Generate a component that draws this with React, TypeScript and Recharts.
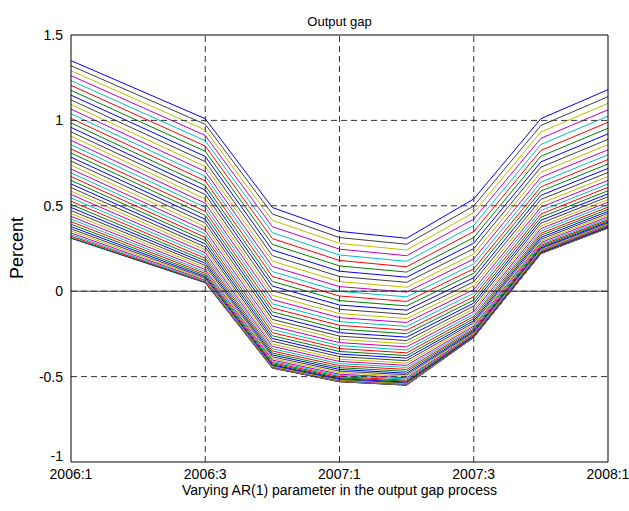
import { LineChart, Line, XAxis, YAxis, ReferenceLine } from "recharts";

// output gap paths, one value per AR(1) draw (lowest persistence first)
const q2006_1 = [0.310, 0.314, 0.322, 0.331, 0.341, 0.353, 0.365, 0.378, 0.392, 0.407, 0.422, 0.438, 0.455, 0.472, 0.490, 0.508, 0.527, 0.546, 0.566, 0.586, 0.607, 0.628, 0.649, 0.671, 0.693, 0.715, 0.738, 0.762, 0.785, 0.809, 0.833, 0.858, 0.883, 0.908, 0.933, 0.959, 0.985, 1.012, 1.039, 1.066, 1.093, 1.120, 1.148, 1.176, 1.205, 1.233, 1.262, 1.291, 1.320, 1.350];
const q2006_3 = [0.050, 0.051, 0.054, 0.058, 0.064, 0.070, 0.077, 0.085, 0.094, 0.104, 0.114, 0.126, 0.138, 0.151, 0.164, 0.178, 0.193, 0.209, 0.225, 0.242, 0.259, 0.277, 0.296, 0.315, 0.335, 0.356, 0.377, 0.399, 0.421, 0.444, 0.467, 0.491, 0.515, 0.540, 0.566, 0.592, 0.618, 0.646, 0.673, 0.701, 0.730, 0.759, 0.789, 0.819, 0.850, 0.881, 0.912, 0.944, 0.977, 1.010];
const q2006_4 = [-0.450, -0.450, -0.448, -0.446, -0.444, -0.440, -0.436, -0.431, -0.425, -0.418, -0.411, -0.403, -0.394, -0.384, -0.373, -0.362, -0.350, -0.337, -0.323, -0.309, -0.293, -0.277, -0.261, -0.243, -0.225, -0.205, -0.185, -0.165, -0.143, -0.121, -0.098, -0.074, -0.049, -0.024, 0.003, 0.030, 0.057, 0.086, 0.115, 0.145, 0.176, 0.208, 0.241, 0.274, 0.308, 0.343, 0.378, 0.415, 0.452, 0.490];
const q2007_1 = [-0.530, -0.530, -0.529, -0.527, -0.524, -0.521, -0.517, -0.512, -0.507, -0.500, -0.493, -0.486, -0.477, -0.468, -0.458, -0.448, -0.436, -0.424, -0.411, -0.398, -0.383, -0.368, -0.353, -0.336, -0.319, -0.301, -0.282, -0.263, -0.243, -0.222, -0.200, -0.178, -0.155, -0.131, -0.106, -0.081, -0.055, -0.028, -0.001, 0.027, 0.056, 0.086, 0.117, 0.148, 0.180, 0.212, 0.246, 0.280, 0.314, 0.350];
const q2007_2 = [-0.550, -0.550, -0.549, -0.547, -0.544, -0.541, -0.537, -0.532, -0.527, -0.521, -0.514, -0.507, -0.498, -0.489, -0.480, -0.469, -0.458, -0.446, -0.434, -0.421, -0.407, -0.392, -0.377, -0.361, -0.344, -0.326, -0.308, -0.289, -0.269, -0.249, -0.228, -0.206, -0.183, -0.160, -0.136, -0.111, -0.086, -0.060, -0.033, -0.005, 0.023, 0.052, 0.082, 0.112, 0.143, 0.175, 0.208, 0.241, 0.275, 0.310];
const q2007_3 = [-0.270, -0.270, -0.270, -0.269, -0.268, -0.267, -0.266, -0.264, -0.261, -0.258, -0.255, -0.251, -0.246, -0.241, -0.235, -0.228, -0.221, -0.213, -0.204, -0.194, -0.184, -0.173, -0.161, -0.148, -0.134, -0.119, -0.104, -0.087, -0.070, -0.052, -0.032, -0.012, 0.009, 0.031, 0.055, 0.079, 0.105, 0.131, 0.159, 0.188, 0.218, 0.249, 0.281, 0.314, 0.349, 0.385, 0.422, 0.460, 0.499, 0.540];
const q2007_4 = [0.220, 0.220, 0.220, 0.221, 0.222, 0.223, 0.224, 0.226, 0.229, 0.231, 0.235, 0.239, 0.243, 0.249, 0.254, 0.261, 0.268, 0.276, 0.285, 0.294, 0.304, 0.315, 0.327, 0.339, 0.353, 0.367, 0.382, 0.398, 0.415, 0.433, 0.452, 0.472, 0.492, 0.514, 0.537, 0.561, 0.586, 0.611, 0.638, 0.667, 0.696, 0.726, 0.757, 0.790, 0.824, 0.859, 0.895, 0.932, 0.970, 1.010];
const q2008_1 = [0.370, 0.370, 0.370, 0.371, 0.372, 0.373, 0.374, 0.376, 0.379, 0.382, 0.385, 0.389, 0.394, 0.399, 0.405, 0.412, 0.419, 0.427, 0.436, 0.446, 0.456, 0.467, 0.479, 0.492, 0.506, 0.521, 0.536, 0.553, 0.570, 0.588, 0.608, 0.628, 0.649, 0.671, 0.695, 0.719, 0.745, 0.771, 0.799, 0.828, 0.858, 0.889, 0.921, 0.954, 0.989, 1.025, 1.062, 1.100, 1.139, 1.180];

// quarter index (0 = 2006:1) for each column above
const QUARTER_POS = [0, 2, 3, 4, 5, 6, 7, 8];
const PATHS = [q2006_1, q2006_3, q2006_4, q2007_1, q2007_2, q2007_3, q2007_4, q2008_1];

const X_TICKS = [0, 2, 4, 6, 8];
const X_TICK_LABELS = ["2006:1", "2006:3", "2007:1", "2007:3", "2008:1"];
const Y_TICKS = [-1, -0.5, 0, 0.5, 1, 1.5];

// classic matlab colour order
const COLOR_ORDER = ["#0000ff", "#008000", "#ff0000", "#00bfbf", "#bf00bf", "#bfbf00", "#404040"];

const FONT = '"Liberation Sans", Arial, Helvetica, sans-serif';
const GRID = "#333333";

const rows = QUARTER_POS.map((q, i) => {
  const row: Record<string, number> = { q };
  PATHS[i].forEach((v, k) => {
    row[`s${k}`] = v;
  });
  return row;
});
const seriesKeys = q2006_1.map((_, k) => `s${k}`);

// y tick text; the bottom one is nudged up so it clears the first date label
function YTick(props: any) {
  const { x, y, payload } = props;
  const lift = payload.value === -1 ? -6 : 0;
  return (
    <text x={x} y={y + lift} textAnchor="end" dominantBaseline="central" fill="#000" fontSize={14} fontFamily={FONT}>
      {String(payload.value)}
    </text>
  );
}

export default function App() {
  return (
    <div style={{ position: "absolute", left: 0, top: 0, width: 629, height: 511, background: "#fff", fontFamily: FONT }}>
      <LineChart width={629} height={511} data={rows} margin={{ top: 35, right: 21, bottom: 0, left: 0 }}>
        <XAxis
          dataKey="q"
          type="number"
          domain={[0, 8]}
          ticks={X_TICKS}
          interval={0}
          tickFormatter={(v: number) => X_TICK_LABELS[X_TICKS.indexOf(v)] ?? ""}
          height={49}
          axisLine={{ stroke: "#000" }}
          tickLine={false}
          tickSize={0}
          tickMargin={7}
          tick={{ fill: "#000", fontSize: 14, fontFamily: FONT }}
        />
        <YAxis
          type="number"
          domain={[-1, 1.5]}
          ticks={Y_TICKS}
          interval={0}
          width={71}
          axisLine={{ stroke: "#000" }}
          tickLine={false}
          tickSize={0}
          tickMargin={8}
          tick={<YTick />}
        />
        {seriesKeys.map((key, k) => (
          <Line
            key={key}
            dataKey={key}
            type="linear"
            stroke={COLOR_ORDER[k % COLOR_ORDER.length]}
            strokeWidth={1}
            dot={false}
            activeDot={false}
            isAnimationActive={false}
          />
        ))}
        <ReferenceLine y={0} stroke="#444" strokeWidth={1} />
        {[-0.5, 0, 0.5, 1].map((y) => (
          <ReferenceLine key={`h${y}`} y={y} stroke={GRID} strokeDasharray="6 4" />
        ))}
        {[2, 4, 6].map((x) => (
          <ReferenceLine key={`v${x}`} x={x} stroke={GRID} strokeDasharray="6 4" />
        ))}
        <ReferenceLine y={1.5} stroke="#000" />
        <ReferenceLine x={8} stroke="#000" />
      </LineChart>
      <div style={{ position: "absolute", left: 71, width: 537, top: 14, textAlign: "center", fontSize: 13, lineHeight: "16px", color: "#000" }}>
        Output gap
      </div>
      <div style={{ position: "absolute", left: 71, width: 537, top: 482, textAlign: "center", fontSize: 14, lineHeight: "16px", color: "#000" }}>
        Varying AR(1) parameter in the output gap process
      </div>
      <div
        style={{
          position: "absolute",
          left: 17,
          top: 248,
          transform: "translate(-50%, -50%) rotate(-90deg)",
          fontSize: 18,
          lineHeight: "20px",
          whiteSpace: "nowrap",
          color: "#000",
        }}
      >
        Percent
      </div>
    </div>
  );
}
